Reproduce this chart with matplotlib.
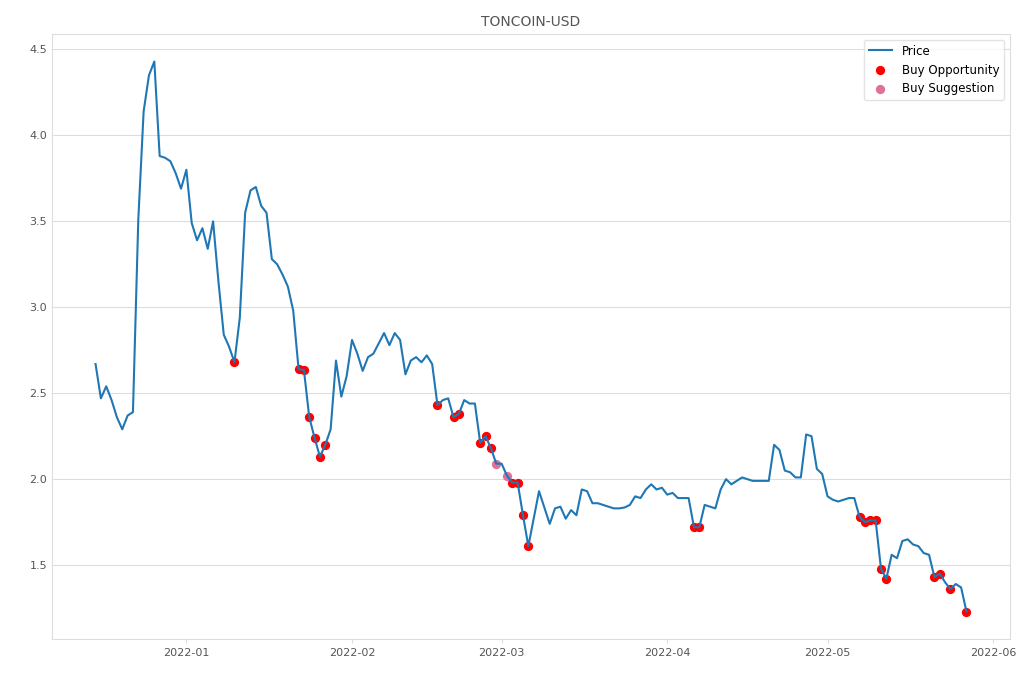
import matplotlib
matplotlib.use("Agg")
import matplotlib.pyplot as plt
import matplotlib.dates as mdates
import pandas as pd
import numpy as np

start_date = "2021-12-15"
price = [
    2.67, 2.47, 2.54, 2.46, 2.36, 2.29, 2.37, 2.39, 3.51, 4.14,
    4.35, 4.43, 3.88, 3.87, 3.85, 3.78, 3.69, 3.80, 3.49, 3.39,
    3.46, 3.34, 3.50, 3.15, 2.84, 2.77, 2.68, 2.94, 3.55, 3.68,
    3.70, 3.59, 3.55, 3.28, 3.25, 3.19, 3.12, 2.98, 2.64, 2.635,
    2.36, 2.24, 2.13, 2.20, 2.29, 2.69, 2.48, 2.60, 2.81, 2.73,
    2.63, 2.71, 2.73, 2.79, 2.85, 2.78, 2.85, 2.81, 2.61, 2.69,
    2.71, 2.68, 2.72, 2.67, 2.43, 2.46, 2.47, 2.36, 2.38, 2.46,
    2.44, 2.44, 2.21, 2.25, 2.18, 2.09, 2.09, 2.02, 1.98, 1.98,
    1.79, 1.61, 1.77, 1.93, 1.835, 1.74, 1.83, 1.84, 1.77, 1.82,
    1.79, 1.94, 1.93, 1.86, 1.86, 1.85, 1.84, 1.83, 1.83, 1.835,
    1.85, 1.90, 1.89, 1.94, 1.97, 1.94, 1.95, 1.91, 1.92, 1.89,
    1.89, 1.89, 1.72, 1.72, 1.85, 1.84, 1.83, 1.94, 2.00, 1.97,
    1.99, 2.01, 2.00, 1.99, 1.99, 1.99, 1.99, 2.20, 2.17, 2.05,
    2.04, 2.01, 2.01, 2.26, 2.25, 2.06, 2.03, 1.90, 1.88, 1.87,
    1.88, 1.89, 1.89, 1.78, 1.75, 1.76, 1.76, 1.48, 1.42, 1.56,
    1.54, 1.64, 1.65, 1.62, 1.61, 1.57, 1.56, 1.43, 1.45, 1.40,
    1.36, 1.39, 1.37, 1.23,
]
buy_opportunity_idx = [26, 38, 39, 40, 41, 42, 43, 64, 67, 68, 72, 73, 74,
                       78, 79, 80, 81, 112, 113, 143, 144, 145, 146, 147, 148,
                       157, 158, 160, 163]
buy_suggestion_idx = [75, 77]

dates = pd.date_range(start_date, periods=len(price), freq="D")
s = pd.Series(price, index=dates)

fig = plt.figure(figsize=(10.2, 6.8), dpi=100)
ax = fig.add_axes([52/1020, 1-639/680, (1010-52)/1020, (639-34)/680])

ax.plot(s.index, s.values, color="#1f77b4", lw=1.5, label="Price", zorder=3)
ax.scatter(s.index[buy_opportunity_idx], s.values[buy_opportunity_idx],
           color="red", s=32, label="Buy Opportunity", zorder=2)
ax.scatter(s.index[buy_suggestion_idx], s.values[buy_suggestion_idx],
           color="#e0709a", s=32, label="Buy Suggestion", zorder=2)

ax.set_title("TONCOIN-USD", fontsize=10, color="#555555")
ax.xaxis.set_major_locator(mdates.MonthLocator())
ax.xaxis.set_major_formatter(mdates.DateFormatter("%Y-%m"))
ax.grid(axis="y", color="#dddddd", lw=0.8)
ax.grid(axis="x", visible=False)
ax.set_axisbelow(True)
for sp in ax.spines.values():
    sp.set_color("#dddddd")
ax.tick_params(axis="both", labelsize=8, colors="#555555", length=3)
ax.tick_params(axis="x", color="#dddddd")
ax.tick_params(axis="y", length=0)

leg = ax.legend(loc="upper right", fontsize=8.5, frameon=True)
leg.get_frame().set_edgecolor("#dddddd")

fig.savefig("out.png", dpi=100)
